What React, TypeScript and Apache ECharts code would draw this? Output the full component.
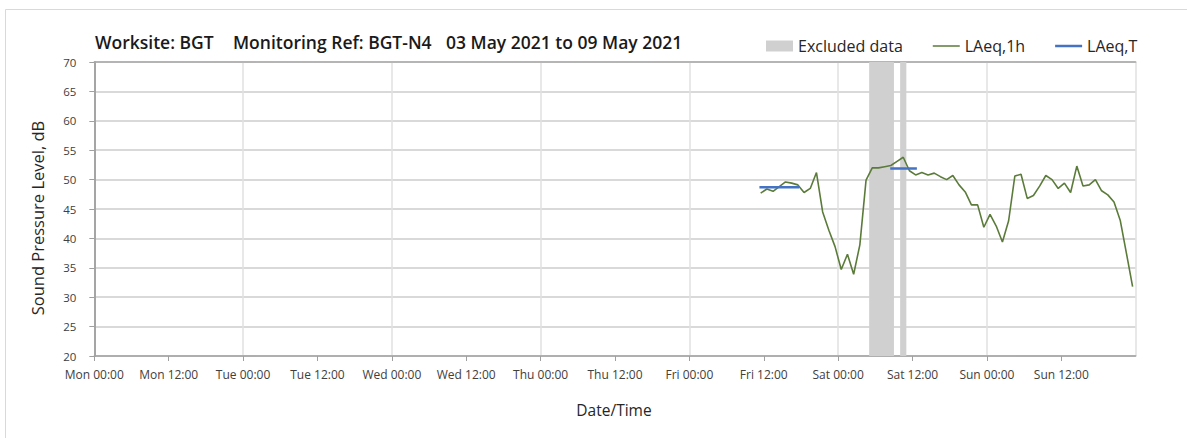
import React, { useEffect, useRef } from "react";
import * as echarts from "echarts";

// Hours counted from Mon 00:00; hourly LAeq,1h readings plotted at the half hour
const firstReadingHour = 107.5; // Fri 11:30
const laeq1h = [
  47.7, 48.4, 48.0, 48.8, 49.6, 49.4, 49.1, 47.8, 48.5, 51.2,
  44.5, 41.4, 38.6, 34.7, 37.3, 33.9, 38.9, 49.9, 52.0, 52.0,
  52.2, 52.4, 53.1, 53.8, 51.5, 50.8, 51.2, 50.8, 51.1, 50.5,
  50.0, 50.7, 49.1, 47.9, 45.7, 45.7, 41.9, 44.1, 42.1, 39.4,
  43.0, 50.6, 50.9, 46.8, 47.3, 48.9, 50.7, 50.0, 48.5, 49.4,
  47.8, 52.3, 48.9, 49.1, 50.0, 48.1, 47.4, 46.2, 43.1, 37.5,
  31.8,
];
const laeqTPeriods = [
  { start: 107.3, end: 113.7, value: 48.7 },
  { start: 128.4, end: 132.7, value: 51.9 },
];
const excludedPeriods = [
  [125, 129],
  [130, 131],
];
const dayNames = ["Mon", "Tue", "Wed", "Thu", "Fri", "Sat", "Sun", "Mon"];
const titleParts = ["Worksite: BGT", "Monitoring Ref: BGT-N4", "03 May 2021 to 09 May 2021"];

const FONT = "'Open Sans', 'DejaVu Sans', sans-serif";

export default function App() {
  const ref = useRef<HTMLDivElement>(null);
  useEffect(() => {
    if (!ref.current) return;
    const chart = echarts.init(ref.current, undefined, { renderer: "svg" });
    const lineData = laeq1h.map((v, i) => [firstReadingHour + i, v]);
    const gridLeft = 94.3;
    const gridTop = 62;
    const gridRight = 1187 - 1135.7;
    const gridBottom = 438 - 356;
    const tSeries = laeqTPeriods.map((p) => ({
      name: "LAeq,T",
      type: "line",
      xAxisIndex: 0,
      yAxisIndex: 0,
      symbol: "none",
      data: [
        [p.start, p.value],
        [p.end, p.value],
      ],
      lineStyle: { color: "#4472c4", width: 2.5 },
      itemStyle: { color: "#4472c4" },
      z: 4,
    }));
    const titleStyle = (t: string) => ({
      text: t,
      font: `600 17.5px ${FONT}`,
      fill: "#1a1a1a",
      verticalAlign: "middle",
    });
    chart.setOption({
      animation: false,
      backgroundColor: "#ffffff",
      textStyle: { fontFamily: FONT },
      grid: { left: gridLeft, top: gridTop, right: gridRight, bottom: gridBottom },
      legend: {
        left: 761,
        top: 33,
        itemWidth: 27,
        itemHeight: 11,
        itemGap: 30,
        textStyle: { fontSize: 16, color: "#262626", fontFamily: FONT },
        data: [
          { name: "Excluded data", icon: "rect" },
          {
            name: "LAeq,1h",
            icon: "path://M0,0M27,11M0,4.75L27,4.75L27,6.25L0,6.25Z",
            itemStyle: { color: "#5b7b3a", borderWidth: 0 },
          },
          {
            name: "LAeq,T",
            icon: "path://M0,0M27,11M0,4.25L27,4.25L27,6.75L0,6.75Z",
            itemStyle: { color: "#4472c4", borderWidth: 0 },
          },
        ],
      },
      graphic: [
        {
          type: "rect",
          shape: { x: 5.5, y: 9.5, width: 1300, height: 600 },
          style: { fill: "none", stroke: "#d9d9d9", lineWidth: 1 },
          silent: true,
          z: -10,
        },
        { type: "text", x: 95, y: 42, style: titleStyle(titleParts[0]) },
        { type: "text", x: 233, y: 42, style: titleStyle(titleParts[1]) },
        { type: "text", x: 446, y: 42, style: titleStyle(titleParts[2]) },
        {
          type: "text",
          x: 37,
          y: 218,
          rotation: Math.PI / 2,
          style: {
            text: "Sound Pressure Level, dB",
            font: `16.5px ${FONT}`,
            fill: "#262626",
            align: "center",
            verticalAlign: "middle",
          },
        },
        {
          type: "text",
          x: 614,
          y: 410,
          style: {
            text: "Date/Time",
            font: `15.5px ${FONT}`,
            fill: "#262626",
            align: "center",
            verticalAlign: "middle",
          },
        },
      ],
      xAxis: [
        {
          type: "value",
          min: 0,
          max: 168,
          interval: 12,
          position: "bottom",
          axisLine: { show: true, lineStyle: { color: "#a0a0a0", width: 1.5 } },
          axisTick: { show: true, length: 5, lineStyle: { color: "#a0a0a0" } },
          splitLine: { show: false },
          axisLabel: {
            show: true,
            margin: 12,
            fontSize: 12,
            color: "#404040",
            fontFamily: FONT,
            showMaxLabel: false,
            formatter: (v: number) => {
              const d = Math.floor(v / 24);
              const h = v - d * 24;
              return `${dayNames[d]} ${h < 10 ? "0" + h : h}:00`;
            },
          },
        },
        {
          type: "value",
          min: 0,
          max: 168,
          interval: 24,
          position: "top",
          axisLine: { show: true, lineStyle: { color: "#a8a8a8", width: 1.5 } },
          axisTick: { show: false },
          axisLabel: { show: false },
          splitLine: { show: true, lineStyle: { color: "#e0e0e0", width: 1.5 } },
        },
      ],
      yAxis: [
        {
          type: "value",
          min: 20,
          max: 70,
          interval: 5,
          axisLine: { show: true, lineStyle: { color: "#a0a0a0", width: 1.5 } },
          axisTick: { show: true, length: 5, lineStyle: { color: "#a0a0a0" } },
          axisLabel: { margin: 18, fontSize: 11.5, color: "#404040", fontFamily: FONT },
          splitLine: { show: true, lineStyle: { color: "#cccccc", width: 1.5 } },
        },
        {
          type: "value",
          min: 20,
          max: 70,
          interval: 5,
          position: "right",
          axisLine: { show: true, lineStyle: { color: "#a0a0a0", width: 1.5 } },
          axisTick: { show: false },
          axisLabel: { show: false },
          splitLine: { show: false },
        },
      ],
      series: [
        {
          name: "Excluded data",
          type: "line",
          xAxisIndex: 0,
          yAxisIndex: 0,
          data: [],
          itemStyle: { color: "#d0d0d0" },
          lineStyle: { color: "#d0d0d0" },
          markArea: {
            silent: true,
            itemStyle: { color: "#d0d0d0" },
            data: excludedPeriods.map(([a, b]) => [{ xAxis: a }, { xAxis: b }]),
          },
          z: 1,
        },
        {
          name: "LAeq,1h",
          type: "line",
          xAxisIndex: 0,
          yAxisIndex: 0,
          symbol: "none",
          data: lineData,
          lineStyle: { color: "#5b7b3a", width: 1.6 },
          itemStyle: { color: "#5b7b3a" },
          z: 3,
        },
        ...tSeries,
      ],
    });
    return () => chart.dispose();
  }, []);
  return (
    <div
      ref={ref}
      style={{ position: "fixed", left: 0, top: 0, width: 1187, height: 438 }}
    />
  );
}
